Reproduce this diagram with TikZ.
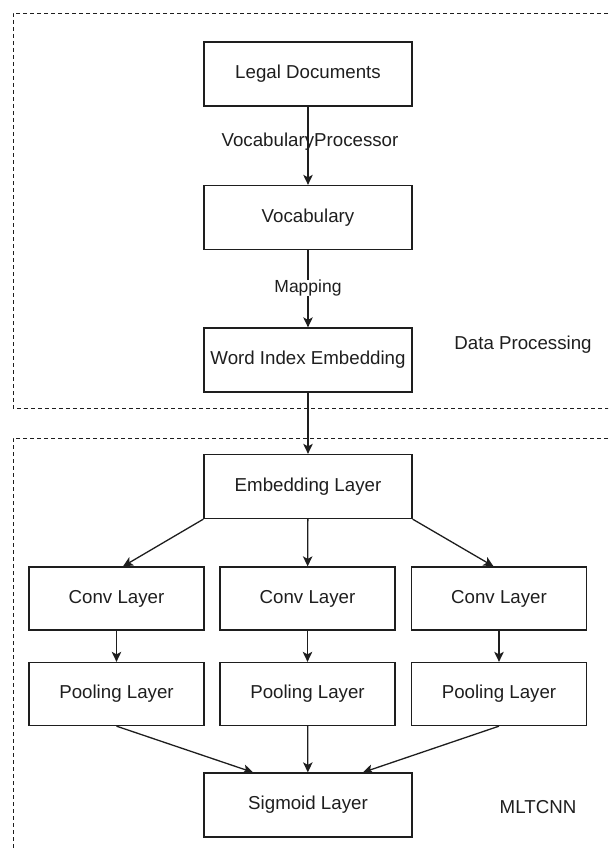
\documentclass[tikz,border=0pt]{standalone}
\usepackage{fontspec}
\setmainfont{Liberation Sans}
\usetikzlibrary{arrows.meta,calc}

\definecolor{ink}{HTML}{1E1E1E}

\tikzset{
  box/.style={draw=ink, line width=1.3pt, text=ink, font=\fontsize{18.7}{22}\selectfont,
    inner sep=0pt, anchor=center},
  wide/.style={box, minimum width=208pt, minimum height=64pt},
  narrow/.style={box, minimum width=175pt, minimum height=63pt},
  lbl/.style={text=ink, font=\fontsize{18.7}{22}\selectfont, inner sep=0pt},
  wire/.style={draw=ink, line width=1.3pt},
  flow/.style={wire, -{Stealth[length=10pt,width=9.5pt,inset=2.5pt]}},
  frame/.style={draw=ink, line width=0.9pt, dash pattern=on 4pt off 3pt}
}

\begin{document}
\begin{tikzpicture}[x=1pt, y=-1pt]
  \useasboundingbox (0,0) rectangle (608,851);
  \clip (0,0) rectangle (608,851);

  % group frames (open to the right and bottom)
  \draw[frame] (615,13) -- (13,13) -- (13,408) -- (615,408);
  \draw[frame] (615,438) -- (13,438) -- (13,860);

  % data processing column
  \node[wide] (legal) at (308,74)    {Legal Documents};
  \node[wide] (vocab) at (308,217.5) {Vocabulary};
  \node[wide] (widx)  at (308,360)   {Word Index Embedding};

  % network
  \node[wide] (emb) at (308,486.5) {Embedding Layer};
  \node[narrow] (convL) at (116.5,598.5) {Conv Layer};
  \node[narrow] (convM) at (307.5,598.5) {Conv Layer};
  \node[narrow] (convR) at (499,598.5)   {Conv Layer};
  \node[narrow] (poolL) at (116.5,694) {Pooling Layer};
  \node[narrow] (poolM) at (307.5,694) {Pooling Layer};
  \node[narrow] (poolR) at (499,694)   {Pooling Layer};
  \node[wide] (sig) at (308,805) {Sigmoid Layer};

  % group captions
  \node[lbl] (dp)  at (523,345) {Data Processing};
  \node[lbl] (mlt) at (538,807) {MLTCNN};

  % edges
  \draw[flow] (legal) -- (vocab);
  \node[lbl] (vp) at (310,142) {VocabularyProcessor};
  \node[lbl, font=\fontsize{17.5}{20}\selectfont] (map) at (308,288) {Mapping};
  \draw[wire] (vocab.south) -- (map.north);
  \draw[flow] (map.south) -- (widx.north);
  \draw[flow] (widx) -- (emb);

  \draw[flow] (emb.south west) -- ($(convL.north)+(6.5,0)$);
  \draw[flow] (emb) -- (convM);
  \draw[flow] (emb.south east) -- ($(convR.north)+(-5.5,0)$);

  \draw[flow] (convL) -- (poolL);
  \draw[flow] (convM) -- (poolM);
  \draw[flow] (convR) -- (poolR);

  \draw[flow] (poolL.south) -- ($(sig.north)+(-55,0)$);
  \draw[flow] (poolM) -- (sig);
  \draw[flow] (poolR.south) -- ($(sig.north)+(55,0)$);
\end{tikzpicture}
\end{document}
